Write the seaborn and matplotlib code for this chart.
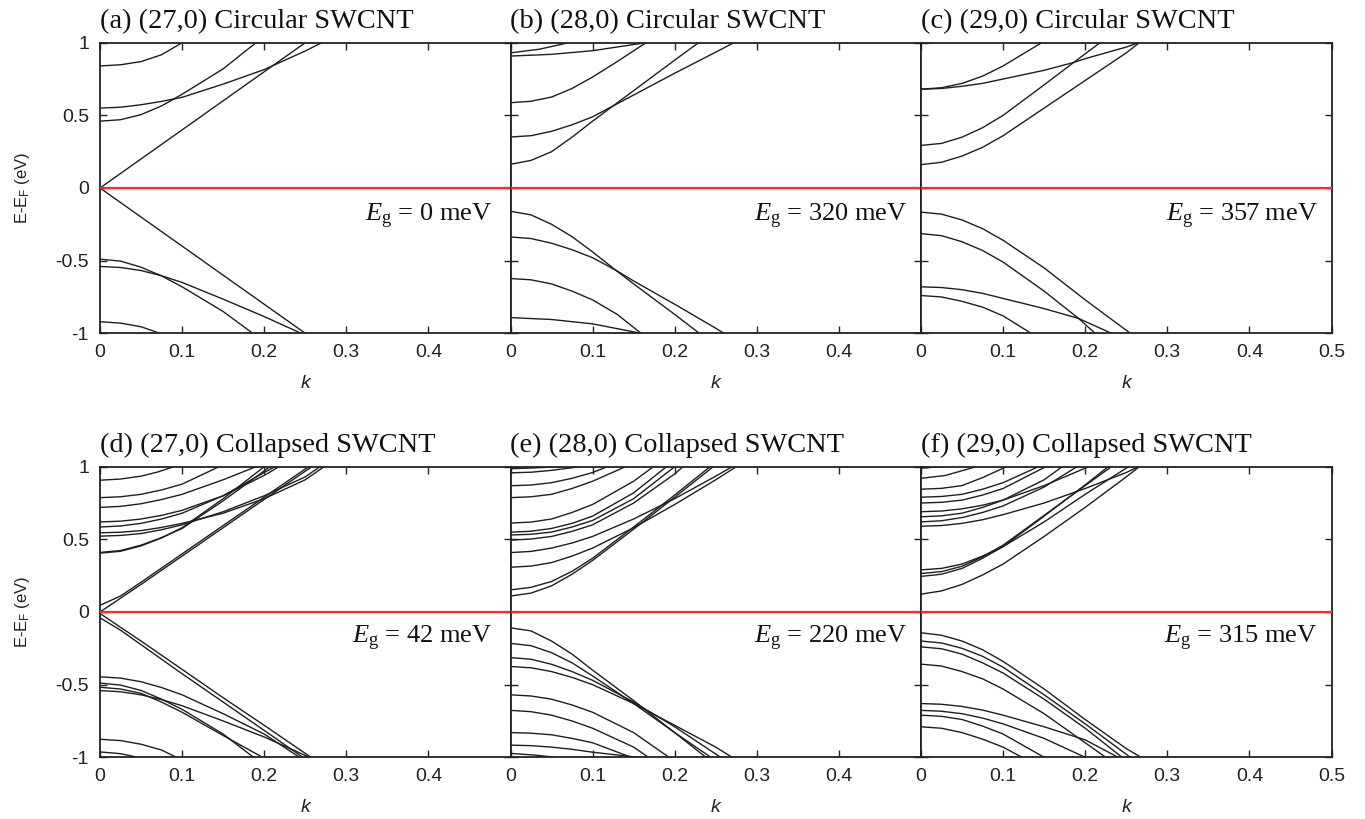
import matplotlib
matplotlib.use("Agg")
import matplotlib.pyplot as plt
import pandas as pd
import seaborn as sns

# ---------------- data: bands as (k, E-E_F) points ----------------
# (a) (27,0) circular
a_cond = [
    [(0, 0.0), (0.05, 0.2), (0.1, 0.4), (0.15, 0.6), (0.2, 0.8), (0.25, 1.0)],
    [(0, 0.55), (0.025, 0.556), (0.05, 0.573), (0.075, 0.596), (0.1, 0.624), (0.15, 0.715), (0.2, 0.815), (0.25, 0.943), (0.27, 1.0)],
    [(0, 0.46), (0.025, 0.47), (0.05, 0.505), (0.075, 0.565), (0.1, 0.645), (0.15, 0.82), (0.19, 1.0)],
    [(0, 0.84), (0.025, 0.848), (0.05, 0.87), (0.075, 0.917), (0.10, 1.0)],
]
a_val = [
    [(0, 0.0), (0.05, -0.2), (0.1, -0.4), (0.15, -0.6), (0.2, -0.8), (0.25, -1.0)],
    [(0, -0.49), (0.025, -0.503), (0.05, -0.545), (0.075, -0.605), (0.1, -0.68), (0.15, -0.85), (0.186, -1.0)],
    [(0, -0.54), (0.025, -0.547), (0.05, -0.568), (0.075, -0.604), (0.1, -0.65), (0.15, -0.765), (0.2, -0.885), (0.245, -1.0)],
    [(0, -0.92), (0.025, -0.93), (0.05, -0.955), (0.073, -1.0)],
]
# (b) (28,0) circular
b_cond = [
    [(0, 0.163), (0.025, 0.19), (0.05, 0.25), (0.075, 0.35), (0.1, 0.46), (0.15, 0.67), (0.2, 0.88), (0.229, 1.0)],
    [(0, 0.351), (0.025, 0.36), (0.05, 0.39), (0.075, 0.435), (0.1, 0.49), (0.15, 0.64), (0.2, 0.79), (0.25, 0.935), (0.272, 1.0)],
    [(0, 0.587), (0.025, 0.597), (0.05, 0.626), (0.075, 0.685), (0.1, 0.764), (0.13, 0.87), (0.165, 1.0)],
    [(0, 0.93), (0.035, 0.955), (0.071, 1.0)],
    [(0, 0.908), (0.05, 0.92), (0.1, 0.945), (0.165, 1.0)],
]
b_val = [
    [(0, -0.16), (0.025, -0.185), (0.05, -0.25), (0.075, -0.335), (0.1, -0.44), (0.128, -0.565), (0.15, -0.66), (0.2, -0.87), (0.23, -1.0)],
    [(0, -0.337), (0.025, -0.348), (0.05, -0.38), (0.075, -0.425), (0.1, -0.48), (0.128, -0.565), (0.15, -0.64), (0.2, -0.80), (0.25, -0.965), (0.26, -1.0)],
    [(0, -0.623), (0.025, -0.632), (0.05, -0.66), (0.075, -0.71), (0.1, -0.77), (0.13, -0.87), (0.159, -1.0)],
    [(0, -0.892), (0.05, -0.905), (0.1, -0.935), (0.159, -1.0)],
]
# (c) (29,0) circular
c_cond = [
    [(0, 0.161), (0.025, 0.177), (0.05, 0.22), (0.075, 0.28), (0.1, 0.36), (0.15, 0.55), (0.2, 0.74), (0.25, 0.93), (0.266, 1.0)],
    [(0, 0.293), (0.025, 0.307), (0.05, 0.35), (0.075, 0.415), (0.1, 0.5), (0.15, 0.71), (0.186, 0.864), (0.218, 1.0)],
    [(0, 0.68), (0.025, 0.69), (0.05, 0.72), (0.075, 0.77), (0.1, 0.84), (0.147, 1.0)],
    [(0, 0.68), (0.025, 0.685), (0.05, 0.70), (0.075, 0.72), (0.1, 0.75), (0.15, 0.81), (0.186, 0.864), (0.2, 0.89), (0.25, 0.97), (0.265, 1.0)],
    [(0, 0.995), (0.015, 1.0)],
]
c_val = [
    [(0, -0.166), (0.025, -0.18), (0.05, -0.22), (0.075, -0.28), (0.1, -0.36), (0.15, -0.55), (0.2, -0.77), (0.255, -1.0)],
    [(0, -0.314), (0.025, -0.328), (0.05, -0.37), (0.075, -0.43), (0.1, -0.51), (0.15, -0.71), (0.192, -0.898), (0.212, -1.0)],
    [(0, -0.68), (0.025, -0.685), (0.05, -0.70), (0.075, -0.725), (0.1, -0.76), (0.15, -0.83), (0.192, -0.898), (0.232, -1.0)],
    [(0, -0.74), (0.025, -0.75), (0.05, -0.78), (0.075, -0.82), (0.1, -0.88), (0.134, -1.0)],
]
# (d) (27,0) collapsed
d_cond = [
    [(0, 0.0), (0.05, 0.19), (0.1, 0.385), (0.15, 0.58), (0.2, 0.775), (0.258, 1.0)],
    [(0, 0.046), (0.025, 0.11), (0.05, 0.205), (0.1, 0.40), (0.15, 0.595), (0.2, 0.79), (0.254, 1.0)],
    [(0, 0.405), (0.025, 0.418), (0.05, 0.455), (0.075, 0.51), (0.1, 0.58), (0.15, 0.78), (0.2, 1.0)],
    [(0, 0.41), (0.025, 0.423), (0.05, 0.46), (0.075, 0.512), (0.1, 0.575), (0.15, 0.765), (0.207, 1.0)],
    [(0, 0.522), (0.025, 0.527), (0.05, 0.54), (0.075, 0.566), (0.1, 0.6), (0.15, 0.69), (0.2, 0.80), (0.25, 0.93), (0.268, 1.0)],
    [(0, 0.545), (0.025, 0.549), (0.05, 0.56), (0.075, 0.582), (0.1, 0.61), (0.15, 0.68), (0.2, 0.78), (0.25, 0.91), (0.273, 1.0)],
    [(0, 0.585), (0.025, 0.592), (0.05, 0.61), (0.075, 0.64), (0.1, 0.68), (0.15, 0.80), (0.2, 0.96), (0.213, 1.0)],
    [(0, 0.62), (0.025, 0.625), (0.05, 0.64), (0.075, 0.665), (0.1, 0.70), (0.15, 0.80), (0.2, 0.94), (0.218, 1.0)],
    [(0, 0.72), (0.025, 0.727), (0.05, 0.745), (0.075, 0.774), (0.1, 0.81), (0.15, 0.91), (0.19, 1.0)],
    [(0, 0.787), (0.025, 0.793), (0.05, 0.81), (0.075, 0.84), (0.1, 0.88), (0.145, 1.0)],
    [(0, 0.907), (0.025, 0.915), (0.05, 0.935), (0.07, 0.963), (0.09, 1.0)],
]
d_val = [
    [(0, -0.01), (0.05, -0.2), (0.1, -0.395), (0.15, -0.59), (0.2, -0.78), (0.257, -1.0)],
    [(0, -0.04), (0.025, -0.125), (0.05, -0.225), (0.1, -0.425), (0.15, -0.62), (0.2, -0.815), (0.247, -1.0)],
    [(0, -0.446), (0.025, -0.455), (0.05, -0.48), (0.075, -0.52), (0.1, -0.57), (0.15, -0.70), (0.2, -0.84), (0.243, -1.0)],
    [(0, -0.489), (0.025, -0.503), (0.05, -0.54), (0.075, -0.60), (0.1, -0.67), (0.15, -0.84), (0.187, -1.0)],
    [(0, -0.518), (0.025, -0.53), (0.05, -0.56), (0.075, -0.62), (0.1, -0.69), (0.15, -0.85), (0.198, -1.0)],
    [(0, -0.541), (0.025, -0.549), (0.05, -0.57), (0.075, -0.603), (0.1, -0.645), (0.15, -0.75), (0.2, -0.86), (0.255, -1.0)],
    [(0, -0.876), (0.025, -0.885), (0.05, -0.91), (0.075, -0.95), (0.093, -1.0)],
    [(0, -0.963), (0.025, -0.975), (0.046, -1.0)],
]
# (e) (28,0) collapsed
e_cond = [
    [(0, 0.11), (0.025, 0.13), (0.05, 0.18), (0.075, 0.26), (0.1, 0.355), (0.15, 0.57), (0.2, 0.79), (0.247, 1.0)],
    [(0, 0.152), (0.025, 0.17), (0.05, 0.21), (0.075, 0.28), (0.1, 0.37), (0.15, 0.585), (0.2, 0.805), (0.243, 1.0)],
    [(0, 0.308), (0.025, 0.316), (0.05, 0.34), (0.075, 0.385), (0.1, 0.44), (0.15, 0.58), (0.2, 0.74), (0.25, 0.91), (0.275, 1.0)],
    [(0, 0.409), (0.025, 0.417), (0.05, 0.44), (0.075, 0.475), (0.1, 0.52), (0.15, 0.64), (0.2, 0.78), (0.25, 0.935), (0.27, 1.0)],
    [(0, 0.495), (0.025, 0.502), (0.05, 0.52), (0.075, 0.555), (0.1, 0.6), (0.15, 0.75), (0.2, 0.95), (0.21, 1.0)],
    [(0, 0.53), (0.025, 0.535), (0.05, 0.55), (0.075, 0.585), (0.1, 0.63), (0.15, 0.78), (0.2, 1.0)],
    [(0, 0.549), (0.025, 0.556), (0.05, 0.575), (0.075, 0.61), (0.1, 0.66), (0.15, 0.82), (0.19, 1.0)],
    [(0, 0.612), (0.025, 0.619), (0.05, 0.64), (0.075, 0.685), (0.1, 0.74), (0.15, 0.9), (0.174, 1.0)],
    [(0, 0.787), (0.025, 0.793), (0.05, 0.81), (0.075, 0.85), (0.1, 0.9), (0.14, 1.0)],
    [(0, 0.869), (0.025, 0.874), (0.05, 0.89), (0.075, 0.92), (0.1, 0.96), (0.118, 1.0)],
    [(0, 0.958), (0.025, 0.962), (0.05, 0.975), (0.085, 1.0)],
    [(0, 0.986), (0.03, 0.992), (0.06, 1.0)],
]
e_val = [
    [(0, -0.109), (0.025, -0.13), (0.05, -0.2), (0.075, -0.29), (0.1, -0.4), (0.15, -0.61), (0.2, -0.83), (0.238, -1.0)],
    [(0, -0.216), (0.025, -0.232), (0.05, -0.28), (0.075, -0.35), (0.1, -0.44), (0.15, -0.63), (0.2, -0.83), (0.244, -1.0)],
    [(0, -0.314), (0.025, -0.325), (0.05, -0.36), (0.075, -0.41), (0.1, -0.47), (0.15, -0.62), (0.2, -0.79), (0.256, -1.0)],
    [(0, -0.375), (0.025, -0.384), (0.05, -0.41), (0.075, -0.45), (0.1, -0.5), (0.15, -0.63), (0.2, -0.78), (0.25, -0.93), (0.27, -1.0)],
    [(0, -0.57), (0.025, -0.578), (0.05, -0.6), (0.075, -0.64), (0.1, -0.69), (0.15, -0.83), (0.193, -1.0)],
    [(0, -0.677), (0.025, -0.686), (0.05, -0.71), (0.075, -0.75), (0.1, -0.8), (0.15, -0.93), (0.168, -1.0)],
    [(0, -0.83), (0.025, -0.834), (0.05, -0.845), (0.075, -0.87), (0.1, -0.9), (0.147, -1.0)],
    [(0, -0.916), (0.025, -0.92), (0.05, -0.93), (0.075, -0.945), (0.1, -0.965), (0.155, -1.0)],
    [(0, -0.973), (0.03, -0.985), (0.055, -1.0)],
]
# (f) (29,0) collapsed
f_cond = [
    [(0, 0.123), (0.025, 0.145), (0.05, 0.19), (0.075, 0.255), (0.1, 0.33), (0.15, 0.52), (0.2, 0.72), (0.25, 0.93), (0.266, 1.0)],
    [(0, 0.245), (0.025, 0.26), (0.05, 0.3), (0.075, 0.37), (0.1, 0.45), (0.15, 0.66), (0.2, 0.875), (0.228, 1.0)],
    [(0, 0.265), (0.025, 0.278), (0.05, 0.315), (0.075, 0.38), (0.1, 0.46), (0.15, 0.665), (0.2, 0.87), (0.232, 1.0)],
    [(0, 0.29), (0.025, 0.3), (0.05, 0.33), (0.075, 0.385), (0.1, 0.45), (0.15, 0.62), (0.2, 0.81), (0.25, 0.99), (0.253, 1.0)],
    [(0, 0.59), (0.025, 0.595), (0.05, 0.61), (0.075, 0.635), (0.1, 0.67), (0.15, 0.75), (0.2, 0.85), (0.25, 0.96), (0.265, 1.0)],
    [(0, 0.62), (0.025, 0.628), (0.05, 0.65), (0.075, 0.685), (0.1, 0.73), (0.15, 0.86), (0.19, 1.0)],
    [(0, 0.655), (0.025, 0.662), (0.05, 0.68), (0.075, 0.72), (0.1, 0.77), (0.15, 0.91), (0.172, 1.0)],
    [(0, 0.69), (0.025, 0.695), (0.05, 0.71), (0.075, 0.735), (0.1, 0.77), (0.15, 0.87), (0.2, 0.99), (0.205, 1.0)],
    [(0, 0.75), (0.025, 0.755), (0.05, 0.77), (0.075, 0.805), (0.1, 0.85), (0.152, 1.0)],
    [(0, 0.79), (0.025, 0.795), (0.05, 0.81), (0.075, 0.845), (0.1, 0.89), (0.143, 1.0)],
    [(0, 0.845), (0.025, 0.851), (0.05, 0.87), (0.075, 0.925), (0.104, 1.0)],
    [(0, 0.92), (0.03, 0.94), (0.067, 1.0)],
    [(0, 0.99), (0.025, 1.0)],
]
f_val = [
    [(0, -0.143), (0.025, -0.16), (0.05, -0.2), (0.075, -0.26), (0.1, -0.34), (0.15, -0.53), (0.2, -0.74), (0.25, -0.94), (0.268, -1.0)],
    [(0, -0.2), (0.025, -0.213), (0.05, -0.25), (0.075, -0.305), (0.1, -0.38), (0.15, -0.57), (0.2, -0.77), (0.255, -1.0)],
    [(0, -0.24), (0.025, -0.253), (0.05, -0.29), (0.075, -0.35), (0.1, -0.42), (0.15, -0.6), (0.2, -0.8), (0.245, -1.0)],
    [(0, -0.359), (0.025, -0.372), (0.05, -0.41), (0.075, -0.46), (0.1, -0.53), (0.15, -0.7), (0.2, -0.9), (0.225, -1.0)],
    [(0, -0.63), (0.025, -0.635), (0.05, -0.65), (0.075, -0.675), (0.1, -0.71), (0.15, -0.79), (0.2, -0.88), (0.24, -1.0)],
    [(0, -0.677), (0.025, -0.683), (0.05, -0.7), (0.075, -0.73), (0.1, -0.77), (0.15, -0.87), (0.2, -1.0)],
    [(0, -0.71), (0.025, -0.718), (0.05, -0.74), (0.075, -0.785), (0.1, -0.84), (0.15, -1.0)],
    [(0, -0.79), (0.025, -0.8), (0.05, -0.83), (0.075, -0.875), (0.1, -0.93), (0.123, -1.0)],
]

titles = ["(a) (27,0) Circular SWCNT", "(b) (28,0) Circular SWCNT", "(c) (29,0) Circular SWCNT",
          "(d) (27,0) Collapsed SWCNT", "(e) (28,0) Collapsed SWCNT", "(f) (29,0) Collapsed SWCNT"]
gaps_meV = [0, 320, 357, 42, 220, 315]
x_ticks = [0, 0.1, 0.2, 0.3, 0.4, 0.5]
y_ticks = [-1, -0.5, 0, 0.5, 1]
panel_bands = [a_cond + a_val, b_cond + b_val, c_cond + c_val,
               d_cond + d_val, e_cond + e_val, f_cond + f_val]

# ---------------- style ----------------
sns.set_style("ticks")
plt.rcParams["font.family"] = ["Liberation Sans", "DejaVu Sans"]
plt.rcParams["axes.unicode_minus"] = False
plt.rcParams["mathtext.fontset"] = "custom"
plt.rcParams["mathtext.rm"] = "Liberation Serif"
plt.rcParams["mathtext.it"] = "Liberation Serif:italic"

W, H = 1365, 819
fig = plt.figure(figsize=(W / 100, H / 100), dpi=100)

lefts = [100, 510.5, 921]
tops = [42.7, 466.7]
pw, ph = 410.5, 290.6
eg_x = [0.955, 0.966, 0.966, 0.955, 0.966, 0.966]

for i in range(6):
    r, c = divmod(i, 3)
    ax = fig.add_axes([lefts[c] / W, 1 - (tops[r] + ph) / H, pw / W, ph / H])
    rows = []
    for b, band in enumerate(panel_bands[i]):
        for k, e in band:
            rows.append({"band": b, "k": k, "E": e})
    df = pd.DataFrame(rows)
    sns.lineplot(data=df, x="k", y="E", units="band", estimator=None,
                 color="#1e1e1e", lw=1.0, ax=ax, legend=False)
    ax.axhline(0, color="#ff2a2a", lw=1.6, zorder=3)
    ax.set_xlim(0, 0.5)
    ax.set_ylim(-1, 1)
    ax.set_xticks(x_ticks)
    ax.set_yticks(y_ticks)
    if c < 2:
        ax.set_xticklabels(["0", "0.1", "0.2", "0.3", "0.4", ""])
    else:
        ax.set_xticklabels(["0", "0.1", "0.2", "0.3", "0.4", "0.5"])
    if c == 0:
        ax.set_yticklabels(["-1", "-0.5", "0", "0.5", "1"])
        ax.set_ylabel(r"E-E$_{\mathregular{F}}$ (eV)", fontsize=12, color="#222222", labelpad=17)
    else:
        ax.set_yticklabels([])
        ax.set_ylabel("")
    ax.set_xlabel("k", fontstyle="italic", fontsize=14, color="#222222", labelpad=10)
    ax.tick_params(direction="in", top=True, right=True, length=5, width=1.0,
                   labelsize=14, labelcolor="#222222", pad=8, color="#222222")
    for sp in ax.spines.values():
        sp.set_linewidth(1.3)
        sp.set_color("#222222")
    ax.text(0, 1.05, titles[i], transform=ax.transAxes, ha="left", va="baseline",
            fontsize=20.4, family="Liberation Serif", color="#111111")
    ax.text(eg_x[i], 0.385 if r == 0 else 0.393, r"$E_{\mathrm{g}}$ = %d meV" % gaps_meV[i],
            transform=ax.transAxes, ha="right", va="baseline",
            fontsize=19, family="Liberation Serif", color="#111111")

fig.savefig("out.png", dpi=100)
